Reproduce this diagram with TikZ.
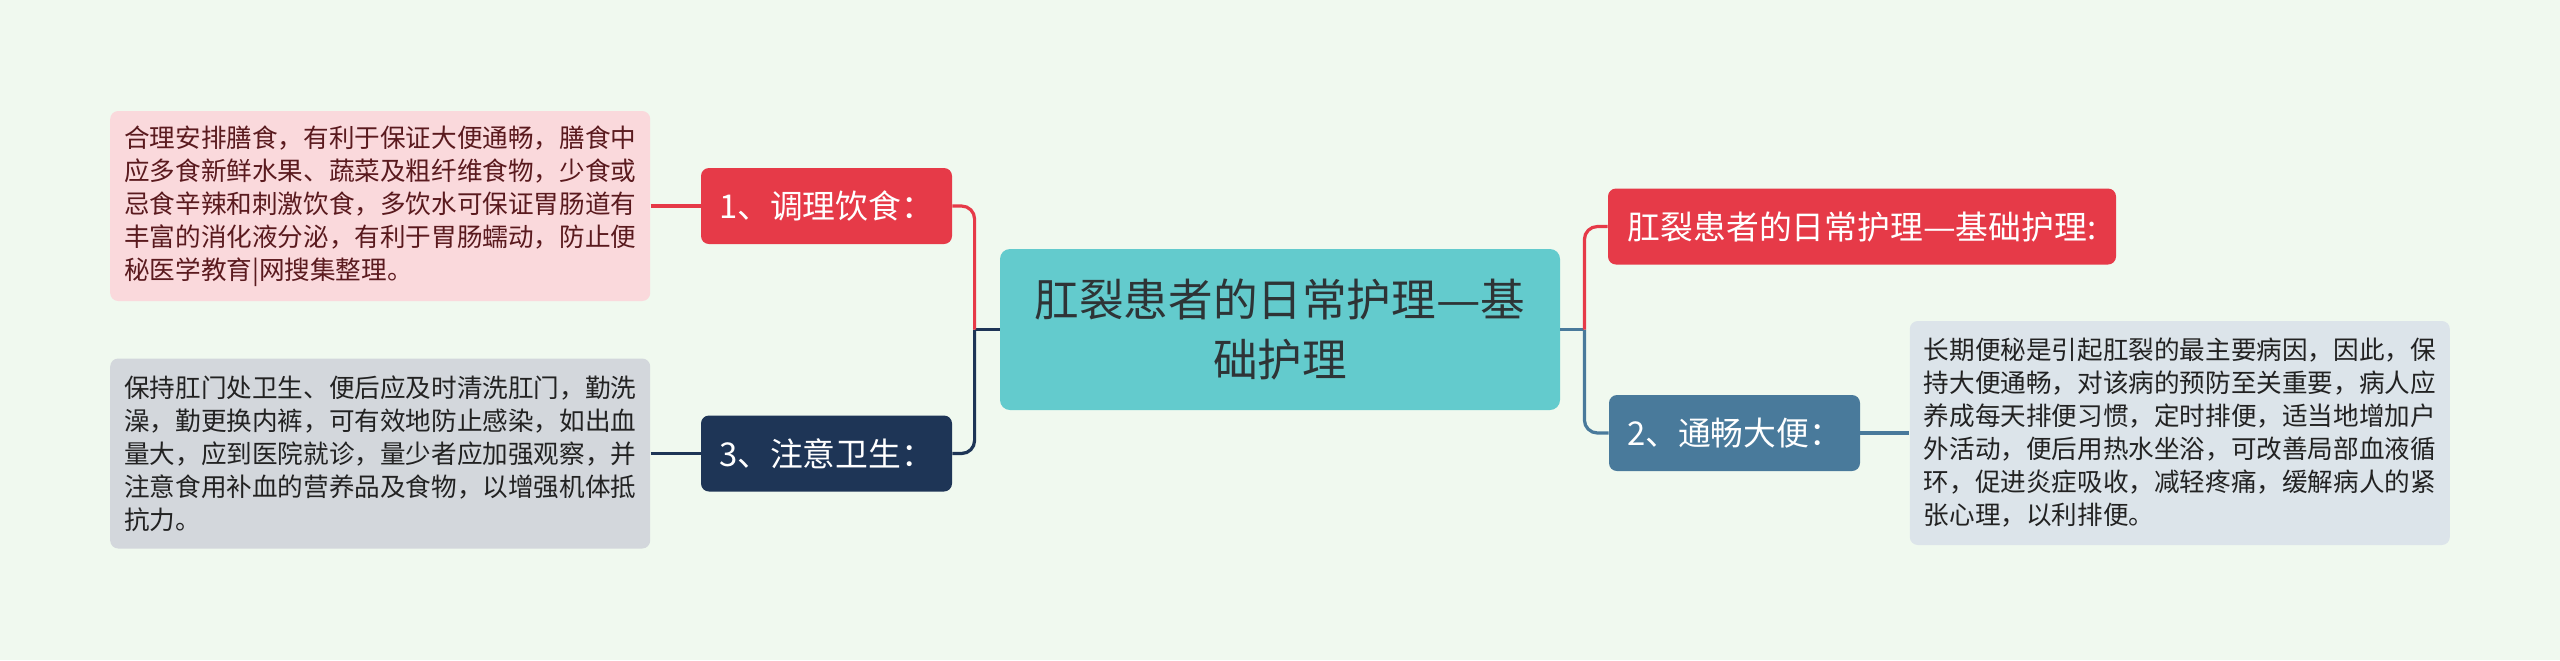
\documentclass[tikz,border=0pt]{standalone}
\usepackage{graphicx}
\usepackage{fontspec}
\setmainfont{Noto Sans CJK SC}
\newcommand{\cjkdash}{\resizebox{1em}{\height}{—}}
\usetikzlibrary{positioning}
\definecolor{bgmint}{HTML}{F0F9EF}
\definecolor{rootteal}{HTML}{63CBCD}
\definecolor{roottext}{HTML}{2E3436}
\definecolor{redtopic}{HTML}{E63A48}
\definecolor{navytopic}{HTML}{1E3556}
\definecolor{bluetopic}{HTML}{497A9B}
\definecolor{pinkleaf}{HTML}{FAD9DC}
\definecolor{grayleaf}{HTML}{D3D7DC}
\definecolor{blueleaf}{HTML}{DCE4EA}
\definecolor{maroontext}{HTML}{5A1A1E}
\definecolor{leaftext}{HTML}{222222}
\tikzset{
  topic/.style={rounded corners=4pt,text=white,minimum height=38pt,inner xsep=8pt,font=\fontsize{16.4}{20}\selectfont},
  leaf/.style={rounded corners=4pt,align=left,text width=256pt,inner xsep=7pt,font=\fontsize{12.8}{16.5}\selectfont},
  link/.style={line width=1.6pt,rounded corners=6.5pt}
}
\begin{document}
\begin{tikzpicture}[x=0.5pt,y=-0.5pt]
  \fill[bgmint] (0,0) rectangle (2560,660);
  \node (root)[fill=rootteal,text=roottext,rounded corners=5pt,minimum width=280pt,minimum height=80.5pt,align=center,font=\fontsize{22.3}{30}\selectfont] at (1280,329.5) {肛裂患者的日常护理\cjkdash 基\\础护理};

  \node (diet)[topic,fill=redtopic,minimum width=125.5pt] at (826.5,206) {1、调理饮食：};
  \node (hygiene)[topic,fill=navytopic,minimum width=125.5pt] at (826.5,453.5) {3、注意卫生：};
  \node (basic)[topic,fill=redtopic,minimum width=254pt] at (1862,226.5) {肛裂患者的日常护理\cjkdash 基础护理:};
  \node (stool)[topic,fill=bluetopic,minimum width=125.5pt] at (1734.5,433) {2、通畅大便：};

  \node (dietnote)[leaf,fill=pinkleaf,text=maroontext,minimum height=95pt,left=25pt of diet] {合理安排膳食，有利于保证大便通畅，膳食中\\应多食新鲜水果、蔬菜及粗纤维食物，少食或\\忌食辛辣和刺激饮食，多饮水可保证胃肠道有\\丰富的消化液分泌，有利于胃肠蠕动，防止便\\秘医学教育|网搜集整理。};
  \node (hygienenote)[leaf,fill=grayleaf,text=leaftext,minimum height=95pt,left=25pt of hygiene] {保持肛门处卫生、便后应及时清洗肛门，勤洗\\澡，勤更换内裤，可有效地防止感染，如出血\\量大，应到医院就诊，量少者应加强观察，并\\注意食用补血的营养品及食物，以增强机体抵\\抗力。};
  \node (stoolnote)[leaf,fill=blueleaf,text=leaftext,minimum height=112pt,right=24.5pt of stool] {长期便秘是引起肛裂的最主要病因，因此，保\\持大便通畅，对该病的预防至关重要，病人应\\养成每天排便习惯，定时排便，适当地增加户\\外活动，便后用热水坐浴，可改善局部血液循\\环，促进炎症吸收，减轻疼痛，缓解病人的紧\\张心理，以利排便。};

  \coordinate (lj) at ([xshift=-12.5pt]root.west);
  \coordinate (rj) at ([xshift=12pt]root.east);
  \draw[link,navytopic] (root.west) -- (lj);
  \draw[link,navytopic] (lj) |- (hygiene.east);
  \draw[link,redtopic] (lj) |- (diet.east);
  \draw[link,bluetopic] (root.east) -- (rj);
  \draw[link,bluetopic] (rj) |- (stool.west);
  \draw[link,redtopic] (rj) |- (basic.west);
  \draw[link,redtopic] (dietnote.east) -- (diet.west);
  \draw[link,navytopic] (hygienenote.east) -- (hygiene.west);
  \draw[link,bluetopic] (stool.east) -- (stoolnote.west);
\end{tikzpicture}
\end{document}
